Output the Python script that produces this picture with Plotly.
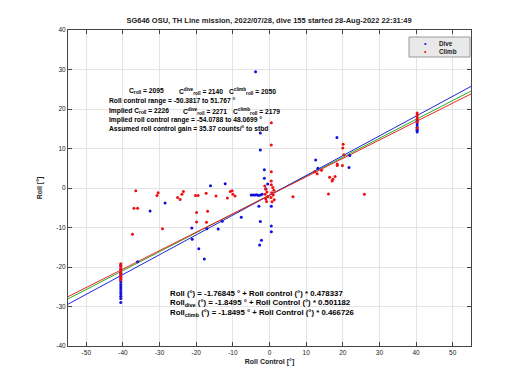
import plotly.graph_objects as go

# ---- data ----
dive_x = [-40.6]*15 + [-5.0, -4.5, -4.0, -3.5, -3.0, -2.5, -2.0, -0.5, -1.0,
          -2.9, 0.5, -7.7, -2.5, 0.5, 0.5, -2.2, -2.7, -1.4, -1.4, -2.5, -2.5, -3.8,
          -16.1, -12.1, -28.5, -32.6, -21.2, -17.1, -14.0, -12.9, -21.1, -19.3, -17.8, -36.0,
          18.4, 21.9, 12.6, 13.2, 21.7] + [40.3]*7
dive_y = [-22.0, -22.6, -23.2, -23.8, -24.4, -25.0, -25.6, -26.2, -26.8, -27.4, -28.0, -29.0, -21.5, -20.5, -19.5,
          -1.8, -1.8, -1.8, -1.7, -1.9, -1.8, -1.6, 1.0, -0.2,
          -4.6, -4.6, -7.4, -8.5, -9.6, -11.1, -13.2, -14.4, 4.6, 2.5, 9.6, 13.9, 29.4,
          0.6, 1.1, -3.8, -5.8, -10.1, -10.3, -10.4, -8.4, -13.0, -15.4, -18.0, -18.7,
          12.8, 8.2, 7.1, 5.0, 5.2] + [14.2, 14.8, 15.4, 16.0, 16.6, 17.2, 14.6]

climb_x = [-40.6]*8 + [-1.3, -1.0, -0.7, -1.2, -0.5, -1.0, -0.8, 0.5, 0.9, 1.2, 0.6, 1.0, 0.4, 1.3, 0.7,
           0.5, 0.5, 0.5, 0.5, 6.4,
           -36.5, -30.4, -30.7, -37.0, -36.0, -29.2, -37.4, -23.5, -23.9, -25.1, -24.4, -20.2, -19.5,
           -17.3, -14.6, -19.9, -16.9, -19.9, -17.2, -10.7, -10.2, -10.0, -9.4, -11.5,
           20.1, 20.0, 20.3, 18.5, 18.5, 19.9, 14.2, 13.0, 12.3, 16.4, 17.3, 17.9, 17.1, 16.1, 25.9] + [40.3]*6
climb_y = [-19.2, -19.8, -20.4, -21.0, -21.6, -22.2, -22.8, -23.3,
           0.5, -0.3, -1.0, -1.6, -2.2, -2.8, -3.4, 0.8, 0.1, -0.6, -1.2, -1.8, -2.4, -3.0, -3.5,
           16.5, 10.9, 4.1, 1.8, -2.2,
           -0.7, -1.2, -1.9, -5.1, -5.1, -10.3, -11.7, -0.9, -1.6, -2.4, -2.9, -1.9, -1.9,
           -1.3, -2.0, -6.2, -5.9, -8.6, -8.7, -0.9, -0.7, -1.6, -2.0, -2.5,
           11.1, 10.1, 8.4, 6.1, 5.7, 5.7, 4.5, 3.6, 4.1, 2.7, 2.2, 2.9, 1.8, -1.5, -1.6] + [17.5, 18.0, 18.5, 19.0, 16.8, 15.2]

fit_names = ["all", "dive", "climb"]
fit_intercepts = [-1.76845, -1.8495, -1.8495]
fit_slopes = [0.478337, 0.501182, 0.466726]
fit_colors = ["#22b022", "#2222dd", "#ee2222"]
x_range = [-55, 55]
y_range = [-40, 40]
x_ticks = [-50, -40, -30, -20, -10, 0, 10, 20, 30, 40, 50]
y_ticks = [-40, -30, -20, -10, 0, 10, 20, 30, 40]
legend_labels = ["Dive", "Climb"]
legend_colors = ["#1010dd", "#ee1010"]

title = "SG646 OSU, TH Line mission, 2022/07/28, dive 155 started 28-Aug-2022 22:31:49"

FONT = "Liberation Sans"
TS = 6.7  # annotation text size (top block)
BS = 7.8  # annotation text size (bottom block)
fig = go.Figure()

for name, b, m, c in zip(fit_names, fit_intercepts, fit_slopes, fit_colors):
    fig.add_trace(go.Scatter(x=x_range, y=[b + m * x for x in x_range], mode="lines",
                             line=dict(color=c, width=1), showlegend=False, hoverinfo="skip"))

fig.add_trace(go.Scatter(x=dive_x, y=dive_y, mode="markers", name="Dive", showlegend=False,
                         marker=dict(color=legend_colors[0], size=3)))
fig.add_trace(go.Scatter(x=climb_x, y=climb_y, mode="markers", name="Climb", showlegend=False,
                         marker=dict(color=legend_colors[1], size=3)))

OFF = 8  # page body margin
L, R, T, B = 60, 57, 22, 52
PW, PH = 520 - L - R, 390 - T - B


def px(x):
    return (x - OFF - L) / PW


def py(y):
    return (390 - B - (y - OFF)) / PH


annots = []


def txt(x, y, s, size=TS, color="black", xanchor="left"):
    annots.append(dict(x=px(x), y=py(y), xref="paper", yref="paper", text="<b>" + s + "</b>",
                       showarrow=False, xanchor=xanchor, yanchor="middle", align="left",
                       font=dict(family=FONT, size=size, color=color)))


txt(127, 91, "C<sub>roll</sub> = 2095")
txt(177, 91, "C<sup>dive</sup><sub>roll</sub> = 2140")
txt(227, 91, "C<sup>climb</sup><sub>roll</sub> = 2050")
txt(107, 101, "Roll control range = -50.3817 to 51.767 °")
txt(107, 111, "Implied C<sub>roll</sub> = 2226")
txt(181, 111, "C<sup>dive</sup><sub>roll</sub> = 2271")
txt(231, 111, "C<sup>climb</sup><sub>roll</sub> = 2179")
txt(107, 120, "Implied roll control range = -54.0788 to 48.0699 °")
txt(107, 129, "Assumed roll control gain = 35.37 counts/° to stbd")

txt(168, 293, "Roll (°) = -1.76845 ° + Roll control (°) * 0.478337", size=BS)
txt(168, 303, "Roll<sub>dive</sub> (°) = -1.8495 ° + Roll Control (°) * 0.501182", size=BS)
txt(168, 313, "Roll<sub>climb</sub> (°) = -1.8495 ° + Roll Control (°) * 0.466726", size=BS)

# manual legend
shapes = [dict(type="rect", xref="paper", yref="paper", x0=px(409), x1=px(470), y0=py(57), y1=py(37),
               fillcolor="#e9e9e9", line=dict(color="#999", width=1), layer="above")]
for i, (lab, col) in enumerate(zip(legend_labels, legend_colors)):
    yy = 43 + 8 * i
    txt(425, yy, "•", size=7, color=col, xanchor="center")
    txt(437, yy, lab, size=6.3, color="#222")

axis_common = dict(showgrid=True, gridcolor="#e4e4e4", gridwidth=1, zeroline=False,
                   showline=True, linecolor="#444", linewidth=1, mirror="ticks",
                   ticks="inside", ticklen=4, tickcolor="#444",
                   tickfont=dict(family=FONT, size=6.5, color="#222"))

fig.update_layout(
    width=520, height=390,
    margin=dict(l=L, r=R, t=T, b=B),
    paper_bgcolor="white", plot_bgcolor="white",
    title=dict(text="<b>" + title + "</b>", x=px(269), xref="paper", xanchor="center",
               y=1 - (20 - OFF) / 390, yanchor="middle",
               font=dict(family=FONT, size=7.5, color="#222")),
    xaxis=dict(range=x_range, tickvals=x_ticks, ticktext=[str(v) for v in x_ticks],
               title=dict(text="<b>Roll Control [°]</b>", standoff=4, font=dict(family=FONT, size=7, color="#222")),
               **axis_common),
    yaxis=dict(range=y_range, tickvals=y_ticks, ticktext=[str(v) for v in y_ticks],
               title=dict(text="<b>Roll [°]</b>", standoff=12, font=dict(family=FONT, size=7, color="#222")),
               **axis_common),
    shapes=shapes,
    annotations=annots,
    showlegend=False,
)

fig.write_html("out.html")
